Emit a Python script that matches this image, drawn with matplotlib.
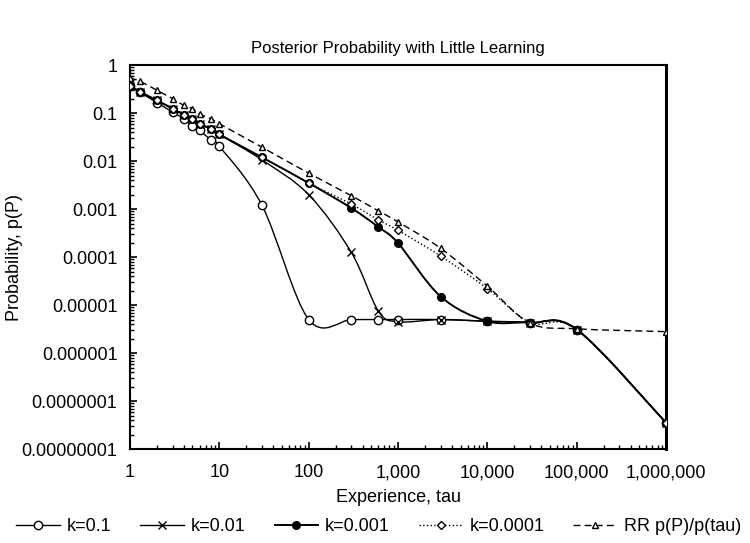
import numpy as np
import matplotlib
matplotlib.use("Agg")
import matplotlib.pyplot as plt
from matplotlib.path import Path
from matplotlib.patches import PathPatch
from matplotlib.lines import Line2D
from matplotlib.ticker import LogLocator, NullFormatter

plt.rcParams['font.family'] = ['Liberation Sans', 'DejaVu Sans']

# опыт (tau)
tau = [1, 1.3, 2, 3, 4, 5, 6, 8, 10, 30, 100, 300, 600, 1000, 3000,
       10000, 30000, 100000, 1000000]

k01 = [0.37, 0.27, 0.166, 0.105, 0.076, 0.055, 0.0435, 0.028, 0.0204,
       0.0012, 5.0e-6, 5.0e-6, 5.0e-6, 5.0e-6, 5.0e-6, 4.6e-6, 4.3e-6,
       3.1e-6, 3.5e-8]
k001 = [0.37, 0.275, 0.185, 0.124, 0.093, 0.076, 0.06, 0.047, 0.036,
        0.0106, 0.002, 1.25e-4, 7.6e-6, 4.5e-6, 5.0e-6, 4.6e-6, 4.3e-6,
        3.1e-6, 3.5e-8]
k0001 = [0.37, 0.277, 0.185, 0.124, 0.093, 0.076, 0.06, 0.047, 0.036,
         0.012, 0.0035, 0.00105, 4.25e-4, 1.95e-4, 1.5e-5, 4.6e-6, 4.3e-6,
         3.1e-6, 3.5e-8]
k00001 = [0.37, 0.277, 0.185, 0.124, 0.093, 0.076, 0.06, 0.047, 0.036,
          0.012, 0.0035, 0.00127, 6.0e-4, 3.6e-4, 1.05e-4, 2.2e-5, 4.3e-6,
          3.1e-6, 3.5e-8]
rr = [0.54, 0.46, 0.30, 0.20, 0.145, 0.124, 0.097, 0.076, 0.06,
      0.0195, 0.0056, 0.0019, 9.2e-4, 5.4e-4, 1.52e-4, 2.47e-5, 4.2e-6,
      3.2e-6, 2.8e-6]

x_ticks = [1, 10, 100, 1000, 10000, 100000, 1000000]
x_tick_labels = ['1', '10', '100', '1,000', '10,000', '100,000', '1,000,000']
y_ticks = [1, 0.1, 0.01, 0.001, 0.0001, 0.00001, 0.000001, 0.0000001,
           0.00000001]
y_tick_labels = ['1', '0.1', '0.01', '0.001', '0.0001', '0.00001',
                 '0.000001', '0.0000001', '0.00000001']


def smooth_curve(ax, xs, ys, **kw):
    # гладкая линия как в Excel (Catmull-Rom в лог-пространстве)
    lx = np.log10(xs)
    ly = np.log10(ys)
    p = np.column_stack([lx, ly])
    n = len(p)
    verts = [p[0]]
    codes = [Path.MOVETO]
    for i in range(n - 1):
        p0 = p[i - 1] if i > 0 else p[i]
        p1 = p[i]
        p2 = p[i + 1]
        p3 = p[i + 2] if i + 2 < n else p[i + 1]
        c1 = p1 + (p2 - p0) / 6.0
        c2 = p2 - (p3 - p1) / 6.0
        verts += [c1, c2, p2]
        codes += [Path.CURVE4] * 3
    verts = 10 ** np.array(verts)
    patch = PathPatch(Path(verts, codes), fill=False, **kw)
    ax.add_patch(patch)


fig = plt.figure(figsize=(7.5, 5.43), dpi=100)
ax = fig.add_axes([0.1733, 0.173, 0.715, 0.707])

series = [
    (k01, 'k=0.1', dict(marker='o', ms=6, mfc='white', mec='black', mew=1.0), '-', 1.0),
    (k001, 'k=0.01', dict(marker='x', ms=6, mfc='black', mec='black', mew=1.0), '-', 1.0),
    (k0001, 'k=0.001', dict(marker='o', ms=5.5, mfc='black', mec='black', mew=1.0), '-', 1.4),
    (k00001, 'k=0.0001', dict(marker='D', ms=4, mfc='white', mec='black', mew=1.0), ':', 1.0),
    (rr, 'RR p(P)/p(tau)', dict(marker='^', ms=5, mfc='white', mec='black', mew=1.0), (0, (5, 3)), 1.0),
]

handles = []
for ys, lab, mk, ls, lw in series:
    smooth_curve(ax, tau, ys, edgecolor='black', linestyle=ls, linewidth=lw,
                 zorder=2)
    ax.plot(tau, ys, linestyle='none', zorder=3, **mk)
    handles.append(Line2D([], [], color='black', linestyle=ls, linewidth=lw,
                          label=lab, **mk))

ax.set_xscale('log')
ax.set_yscale('log')
ax.set_xlim(1, 1000000)
ax.set_ylim(1e-8, 1)

ax.set_xticks(x_ticks)
ax.set_xticklabels(x_tick_labels)
ax.set_yticks(y_ticks)
ax.set_yticklabels(y_tick_labels)
ax.xaxis.set_minor_locator(LogLocator(base=10, subs=np.arange(2, 10)))
ax.yaxis.set_minor_locator(LogLocator(base=10, subs=np.arange(2, 10)))
ax.xaxis.set_minor_formatter(NullFormatter())
ax.yaxis.set_minor_formatter(NullFormatter())

ax.tick_params(which='both', direction='in', top=False, right=False,
               labelsize=13)
ax.tick_params(axis='y', pad=9)
ax.tick_params(axis='x', pad=11)
ax.tick_params(which='major', length=5, width=1.2)
ax.tick_params(which='minor', length=3, width=1.0)
for s in ax.spines.values():
    s.set_linewidth(1.5)
ax.spines['right'].set_linewidth(2.2)

ax.set_title('Posterior Probability with Little Learning', fontsize=12, pad=9)
ax.set_xlabel('Experience, tau', fontsize=13)
ax.xaxis.set_label_coords(0.5, -0.105)
ax.set_ylabel('Probability, p(P)', fontsize=13)
ax.yaxis.set_label_coords(-0.2, 0.5)

fig.legend(handles=handles, loc='lower center', ncol=5, frameon=False,
           fontsize=13, bbox_to_anchor=(0.505, -0.016), handlelength=2.4,
           columnspacing=1.6, handletextpad=0.4, numpoints=1)

fig.savefig('out.png', dpi=100, facecolor='white')
